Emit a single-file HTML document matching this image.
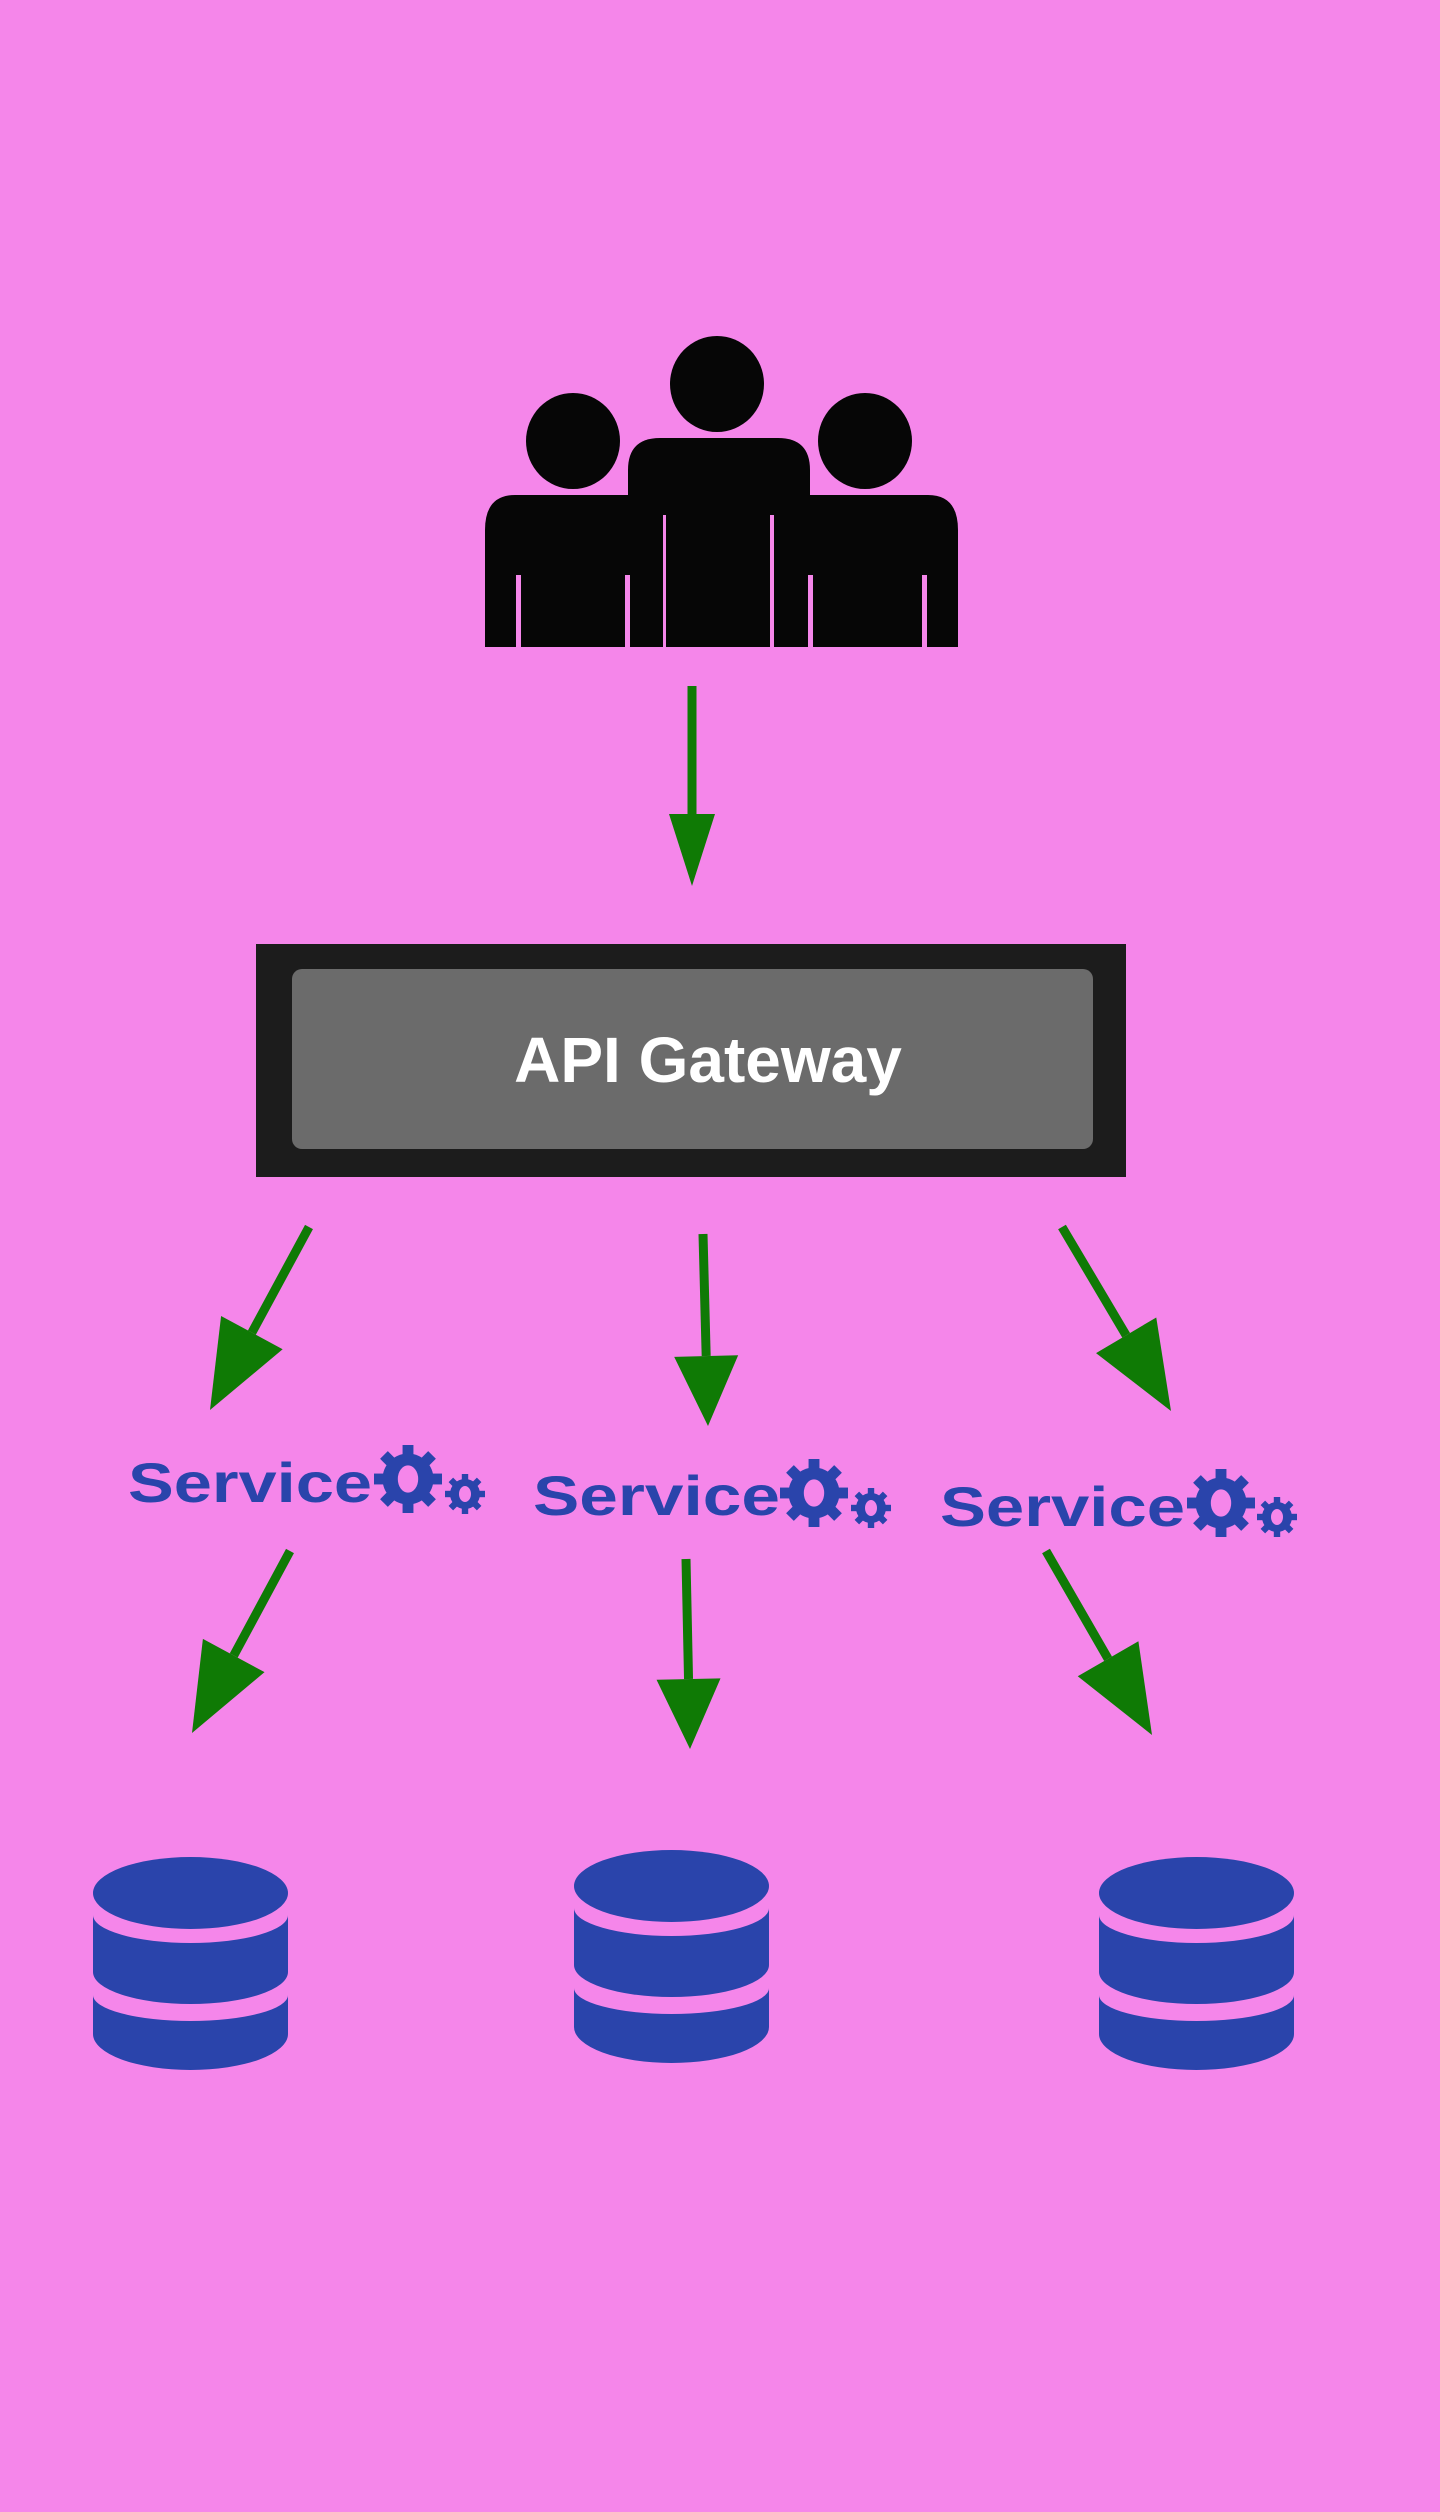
<!DOCTYPE html>
<html><head><meta charset="utf-8"><style>
html,body{margin:0;padding:0;background:#f586ea;}
svg{display:block}
</style></head><body>
<svg id="s" width="1440" height="2512" viewBox="0 0 1440 2512" xmlns="http://www.w3.org/2000/svg">
<rect width="1440" height="2512" fill="#f586ea"/>
<defs>
<g id="gear">
 <g fill="#2a44ab">
  <rect x="-0.16" y="-1" width="0.32" height="2"/>
  <rect x="-0.16" y="-1" width="0.32" height="2" transform="rotate(45)"/>
  <rect x="-0.16" y="-1" width="0.32" height="2" transform="rotate(90)"/>
  <rect x="-0.16" y="-1" width="0.32" height="2" transform="rotate(135)"/>
  <circle r="0.75"/>
 </g>
 <ellipse rx="0.3" ry="0.4" fill="#f586ea"/>
</g>
<g id="db" fill="#2a44ab">
 <ellipse cx="97.5" cy="36" rx="97.5" ry="36"/>
 <path d="M0 58 A97.5 28 0 0 0 195 58 V115 A97.5 32 0 0 1 0 115 Z"/>
 <path d="M0 138 A97.5 26 0 0 0 195 138 V177 A97.5 36 0 0 1 0 177 Z"/>
</g>
</defs>
<!-- people -->
<g fill="#060606">
 <ellipse cx="573" cy="441" rx="47" ry="48"/>
 <ellipse cx="865" cy="441" rx="47" ry="48"/>
 <ellipse cx="717" cy="384" rx="47" ry="48"/>
 <path d="M485 647 V530 Q485 495 515 495 H640 V647 Z"/>
 <path d="M958 647 V530 Q958 495 928 495 H800 V647 Z"/>
 <path d="M628 647 V470 Q628 438 660 438 H778 Q810 438 810 470 V647 Z"/>
</g>
<g fill="#f586ea">
 <rect x="516" y="575" width="5" height="72"/>
 <rect x="922" y="575" width="5" height="72"/>
 <rect x="663" y="515" width="3" height="132"/>
 <rect x="770" y="515" width="4" height="132"/>
 <rect x="625" y="575" width="5" height="72"/>
 <rect x="808" y="575" width="5" height="72"/>
</g>
<!-- gateway -->
<rect x="256" y="944" width="870" height="233" fill="#1c1c1c"/>
<rect x="292" y="969" width="801" height="180" rx="10" fill="#6b6b6b"/>
<text x="708" y="1082" text-anchor="middle" font-family="Liberation Sans, sans-serif" font-weight="bold" font-size="64" fill="#fff">API Gateway</text>
<!-- services -->
<g font-family="Liberation Sans, sans-serif" font-weight="bold" font-size="56" fill="#2a44ab">
 <text x="128" y="1502" textLength="244" lengthAdjust="spacingAndGlyphs">Service</text>
 <text x="533" y="1515" textLength="247" lengthAdjust="spacingAndGlyphs">Service</text>
 <text x="940" y="1526" textLength="245" lengthAdjust="spacingAndGlyphs">Service</text>
</g>
<use href="#gear" transform="translate(408,1479) scale(34)"/>
<use href="#gear" transform="translate(465,1494) scale(20)"/>
<use href="#gear" transform="translate(814,1493) scale(34)"/>
<use href="#gear" transform="translate(871,1508) scale(20)"/>
<use href="#gear" transform="translate(1221,1503) scale(34)"/>
<use href="#gear" transform="translate(1277,1517) scale(20)"/>
<!-- databases -->
<use href="#db" x="93" y="1857"/>
<use href="#db" x="574" y="1850"/>
<use href="#db" x="1099" y="1857"/>
<g id="arrows"></g>
</svg>
<script>
var A=[[692,686,692,886,72,46],[309,1227,210,1410,88,70],[703,1234,708,1426,70,64],[1062,1227,1171,1411,88,70],
[290,1551,192,1733,88,70],[686,1559,690,1749,70,64],[1046,1551,1152,1735,88,70]];
var g=document.getElementById('arrows'),h='';
A.forEach(function(a){var x1=a[0],y1=a[1],x2=a[2],y2=a[3],L=a[4],W=a[5];
var dx=x2-x1,dy=y2-y1,d=Math.hypot(dx,dy),ux=dx/d,uy=dy/d,px=-uy,py=ux;
var bx=x2-ux*L,by=y2-uy*L;
h+='<line x1="'+x1+'" y1="'+y1+'" x2="'+bx+'" y2="'+by+'" stroke="#0f7a05" stroke-width="9"/>';
h+='<polygon fill="#0f7a05" points="'+x2+','+y2+' '+(bx+px*W/2)+','+(by+py*W/2)+' '+(bx-px*W/2)+','+(by-py*W/2)+'"/>';});
g.innerHTML=h;
</script>
</body></html>
